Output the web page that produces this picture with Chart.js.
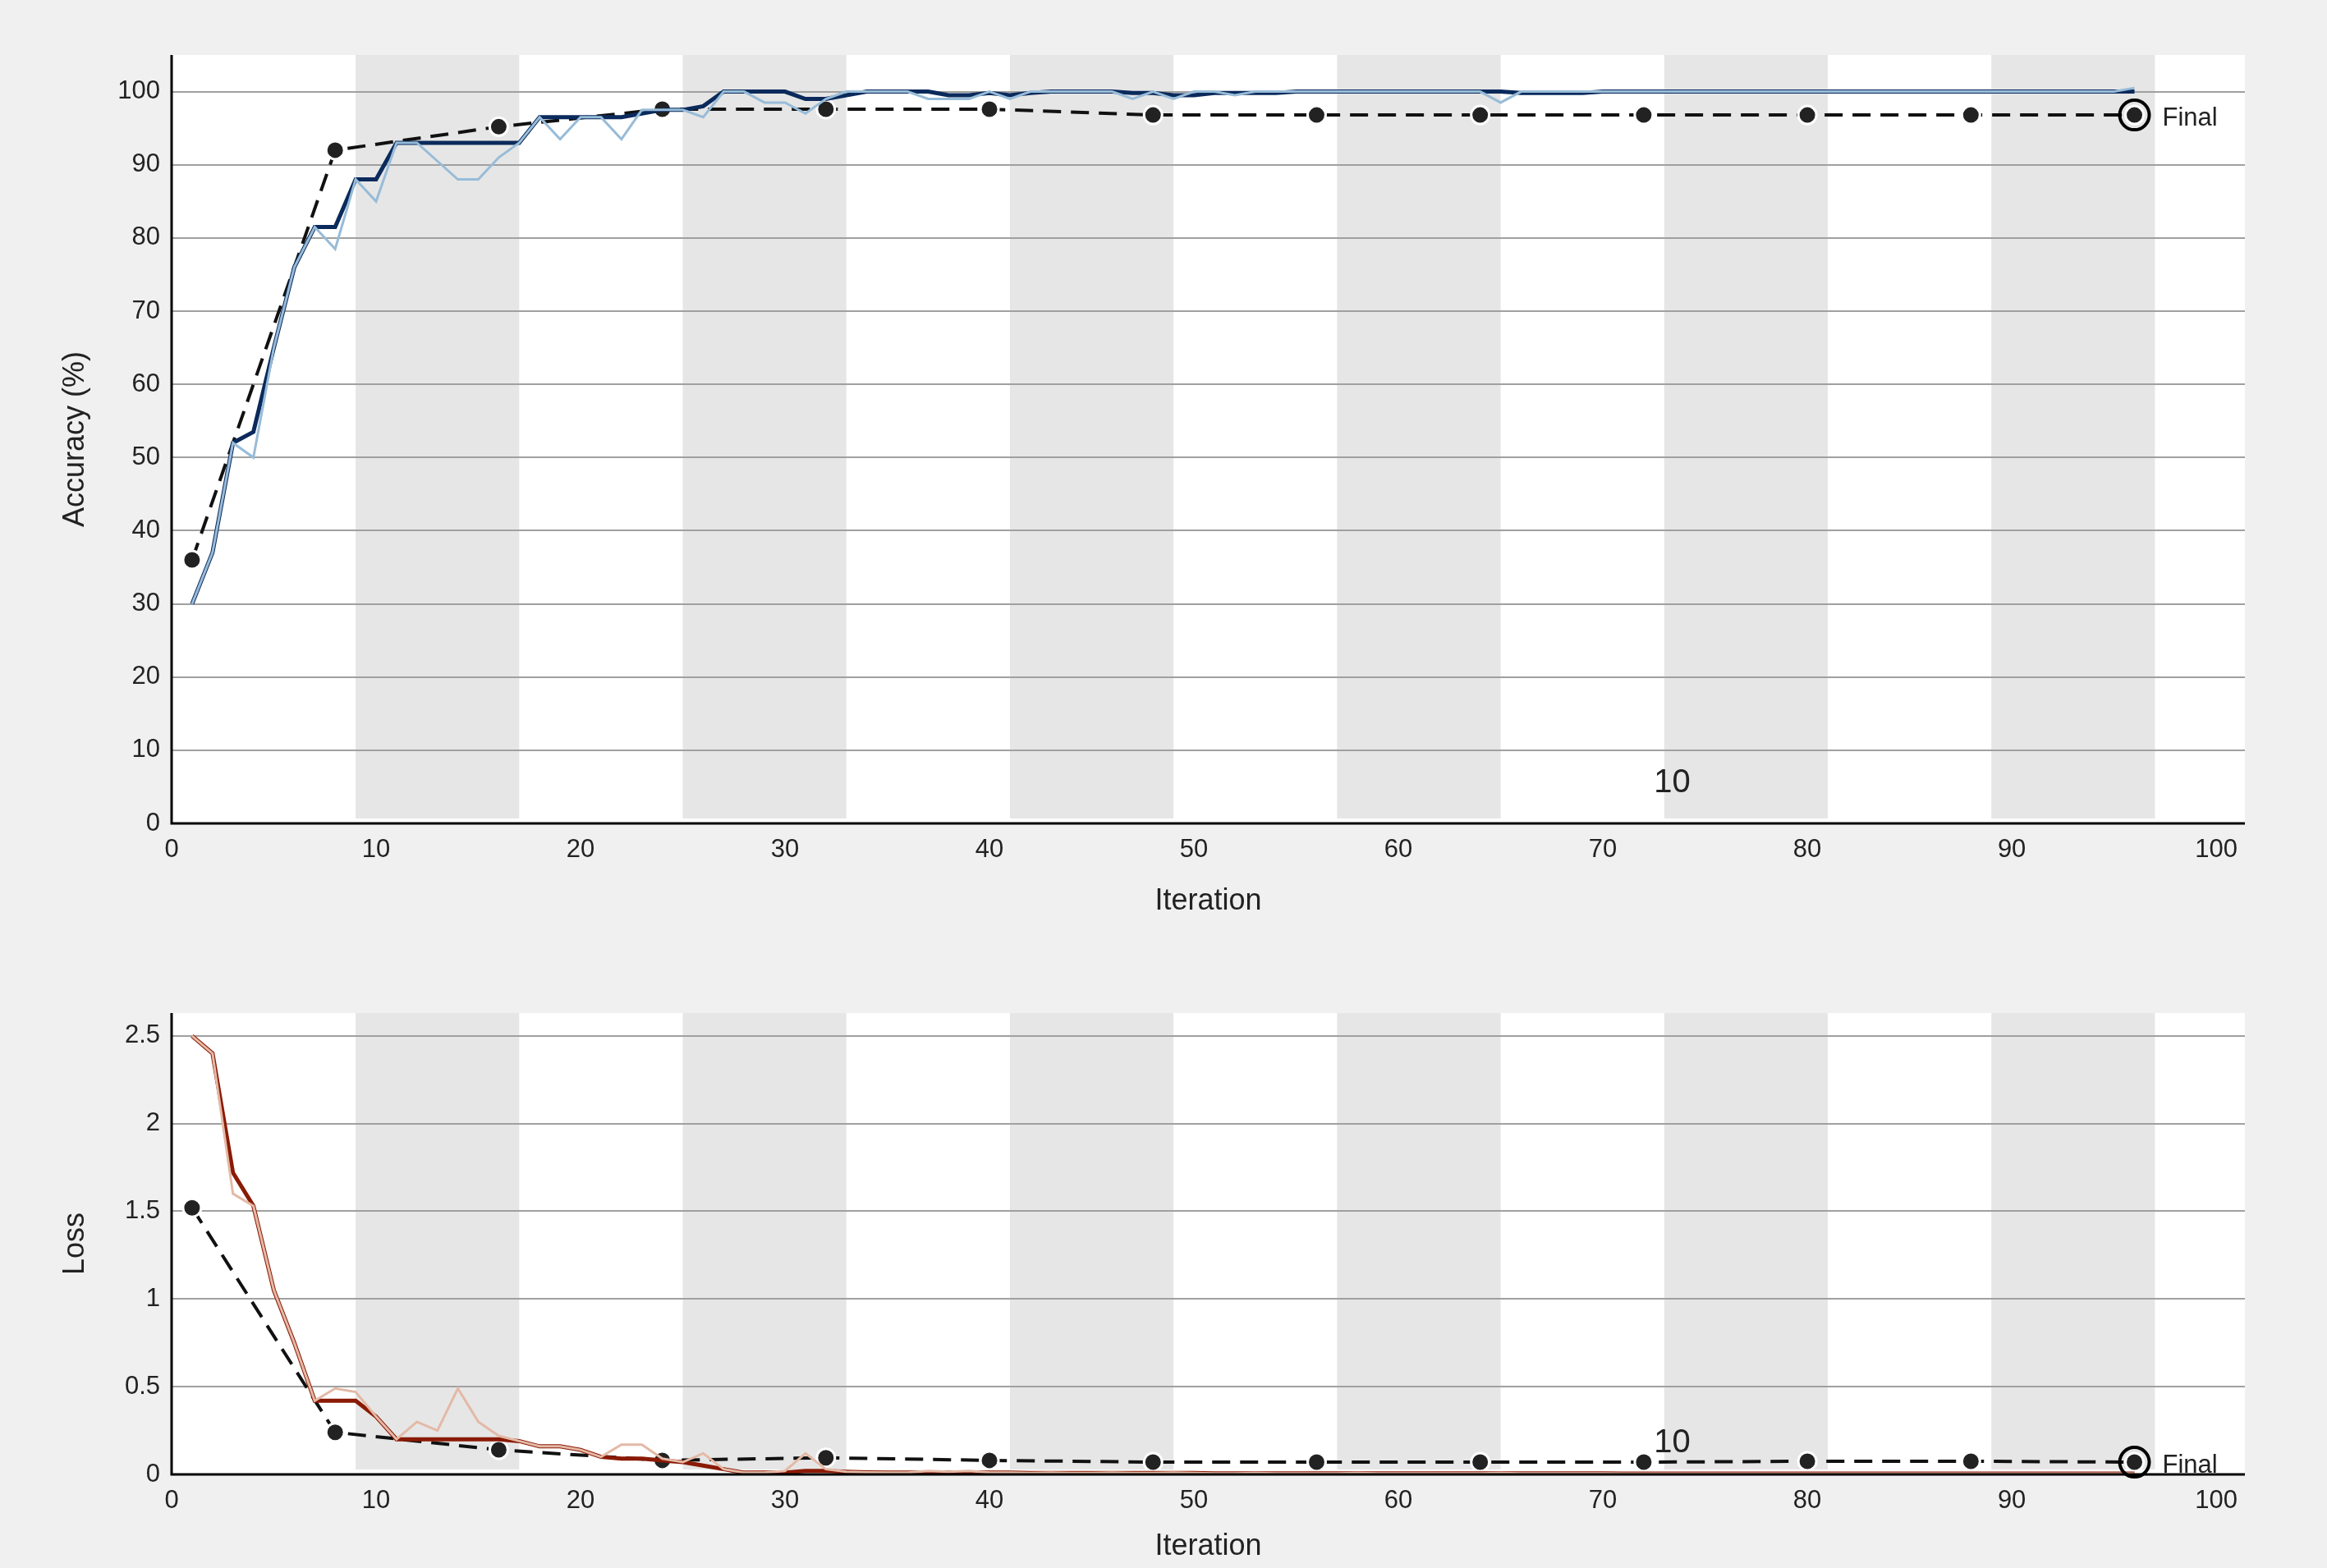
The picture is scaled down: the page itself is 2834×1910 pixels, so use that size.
<!DOCTYPE html>
<html>
<head>
<meta charset="utf-8">
<script src="https://cdn.jsdelivr.net/npm/chart.js@4"></script>
<style>
  body { margin: 0; background: #f0f0f0; }
  .box { position: absolute; left: 0; width: 2834px; }
  #top { top: 0; height: 1140px; }
  #bot { top: 1140px; height: 770px; }
</style>
</head>
<body>
<div class="box" id="top"><canvas id="accChart"></canvas></div>
<div class="box" id="bot"><canvas id="lossChart"></canvas></div>
<script>
var xTicks = [0, 10, 20, 30, 40, 50, 60, 70, 80, 90, 100];
var accTicks = [0, 10, 20, 30, 40, 50, 60, 70, 80, 90, 100];
var lossTicks = [0, 0.5, 1, 1.5, 2, 2.5];
var epochBands = [[9, 17], [25, 33], [41, 49], [57, 65], [73, 81], [89, 97]];

var accSmooth = [30,37,52,53.5,65,76,81.5,81.5,88,88,
  93,93,93,93,93,93,93,96.5,96.5,96.5,
  96.5,96.5,97,97.5,97.5,98,100,100,100,100,
  99,99,99.5,100,100,100,100,99.5,99.5,99.8,
  99.5,99.8,100,100,100,100,99.8,99.8,99.5,99.5,
  99.8,99.8,99.8,99.8,100,100,100,100,100,100,
  100,100,100,100,100,99.8,99.8,99.8,99.8,100,
  100,100,100,100,100,100,100,100,100,100,
  100,100,100,100,100,100,100,100,100,100,
  100,100,100,100,100,100];
var accRaw = [30,37,52,50,65,76,81.5,78.5,88,85,
  93,93,90.5,88,88,91,93,96.5,93.5,96.5,
  96.5,93.5,97.5,97.5,97.5,96.5,100,100,98.5,98.5,
  97,99,100,100,100,100,99,99,99,100,
  99,100,100,100,100,100,99,100,99,100,
  100,99.5,100,100,100,100,100,100,100,100,
  100,100,100,100,98.5,100,100,100,100,100,
  100,100,100,100,100,100,100,100,100,100,
  100,100,100,100,100,100,100,100,100,100,
  100,100,100,100,100,100.5];
var valIter = [1, 8, 16, 24, 32, 40, 48, 56, 64, 72, 80, 88, 96];
var accVal = [36, 92, 95.2, 97.6, 97.6, 97.6, 96.8, 96.8, 96.8, 96.8, 96.8, 96.8, 96.8];

var lossSmooth = [2.5,2.4,1.72,1.53,1.05,0.75,0.42,0.42,0.42,0.33,
  0.2,0.2,0.2,0.2,0.2,0.2,0.19,0.16,0.16,0.14,
  0.1,0.09,0.09,0.08,0.07,0.05,0.03,0.01,0.01,0.01,
  0.02,0.02,0.015,0.012,0.01,0.01,0.01,0.012,0.012,0.01,
  0.01,0.008,0.008,0.008,0.008,0.008,0.008,0.008,0.008,0.008,
  0.006,0.006,0.006,0.006,0.006,0.006,0.006,0.006,0.006,0.006,
  0.006,0.006,0.006,0.006,0.006,0.006,0.006,0.006,0.006,0.006,
  0.005,0.005,0.005,0.005,0.005,0.005,0.005,0.005,0.005,0.005,
  0.005,0.005,0.005,0.005,0.005,0.005,0.005,0.005,0.005,0.005,
  0.005,0.005,0.005,0.005,0.005,0.005];
var lossRaw = [2.5,2.4,1.6,1.53,1.05,0.75,0.42,0.49,0.47,0.33,
  0.2,0.3,0.25,0.49,0.3,0.22,0.19,0.16,0.16,0.14,
  0.1,0.17,0.17,0.09,0.07,0.12,0.03,0.01,0.01,0.02,
  0.12,0.03,0.015,0.012,0.01,0.01,0.02,0.015,0.02,0.01,
  0.01,0.008,0.01,0.008,0.008,0.01,0.008,0.008,0.01,0.008,
  0.006,0.006,0.008,0.006,0.006,0.006,0.006,0.008,0.006,0.006,
  0.006,0.006,0.006,0.006,0.008,0.006,0.006,0.006,0.006,0.006,
  0.005,0.005,0.005,0.005,0.005,0.005,0.005,0.005,0.005,0.005,
  0.005,0.005,0.005,0.005,0.005,0.005,0.005,0.005,0.005,0.005,
  0.005,0.005,0.005,0.005,0.005,0.005];
var lossVal = [1.52, 0.24, 0.14, 0.08, 0.095, 0.08, 0.07, 0.07, 0.07, 0.07, 0.075, 0.075, 0.07];

var FONT = '"Liberation Sans", Arial, sans-serif';

function series(vals) {
  return vals.map(function (v, i) { return { x: i + 1, y: v }; });
}
function valSeries(vals) {
  return vals.map(function (v, i) { return { x: valIter[i], y: v }; });
}

var bandsPlugin = {
  id: 'bands',
  beforeDraw: function (chart) {
    var a = chart.chartArea, ctx = chart.ctx, xs = chart.scales.x;
    ctx.save();
    ctx.fillStyle = '#ffffff';
    ctx.fillRect(a.left, a.top, a.right - a.left, a.bottom - a.top);
    ctx.fillStyle = '#e6e6e6';
    epochBands.forEach(function (b) {
      var l = xs.getPixelForValue(b[0]), r = Math.min(xs.getPixelForValue(b[1]), a.right);
      ctx.fillRect(l, a.top, r - l, a.bottom - a.top - 6);
    });
    ctx.restore();
  },
  afterDraw: function (chart) {
    var a = chart.chartArea, ctx = chart.ctx, xs = chart.scales.x, ys = chart.scales.y;
    var o = chart.options.plugins.bands;
    ctx.save();
    // axis lines
    ctx.strokeStyle = '#000'; ctx.lineWidth = 3;
    ctx.beginPath();
    ctx.moveTo(a.left, a.top); ctx.lineTo(a.left, a.bottom); ctx.lineTo(a.right, a.bottom);
    ctx.stroke();
    // final marker
    var fx = xs.getPixelForValue(valIter[valIter.length - 1]);
    var fy = ys.getPixelForValue(o.finalVal);
    ctx.lineWidth = 4;
    ctx.beginPath(); ctx.arc(fx, fy, 18, 0, Math.PI * 2); ctx.stroke();
    ctx.fillStyle = '#222';
    ctx.font = '31px ' + FONT;
    ctx.textBaseline = 'middle';
    ctx.fillText('Final', fx + 34, fy + 4);
    ctx.font = '40px ' + FONT;
    ctx.fillText('10', xs.getPixelForValue(72.5), ys.getPixelForValue(o.epochLabelY));
    ctx.restore();
  }
};

function makeChart(id, smooth, raw, val, dark, light, yTicks, yMax, yTitle, padTop, xHeight, padBottom, finalVal, epochLabelY) {
  return new Chart(document.getElementById(id).getContext('2d'), {
    type: 'line',
    data: {
      datasets: [
        { data: series(raw), borderColor: light, borderWidth: 3, pointRadius: 0, tension: 0 },
        { data: series(smooth), borderColor: dark, borderWidth: 5, pointRadius: 0, tension: 0 },
        { data: valSeries(val), borderColor: '#111', borderWidth: 4, borderDash: [22, 12],
          pointRadius: 11, pointBackgroundColor: '#222', pointBorderColor: '#fff', pointBorderWidth: 3 }
      ]
    },
    options: {
      responsive: true, maintainAspectRatio: false, animation: false,
      layout: { padding: { top: padTop, right: 100, left: 66, bottom: padBottom } },
      plugins: { legend: { display: false }, tooltip: { enabled: false },
        bands: { finalVal: finalVal, epochLabelY: epochLabelY } },
      scales: {
        x: {
          type: 'linear', min: 0, max: 101.4,
          afterBuildTicks: function (s) { s.ticks = xTicks.map(function (v) { return { value: v }; }); },
          afterFit: function (s) { s.height = xHeight; },
          grid: { display: false, drawTicks: false },
          border: { display: false },
          ticks: { color: '#222', font: { size: 31, family: FONT }, padding: 14, maxRotation: 0 },
          title: { display: true, text: 'Iteration', color: '#222', font: { size: 36, family: FONT }, padding: { top: 4 } }
        },
        y: {
          min: 0, max: yMax,
          afterBuildTicks: function (s) { s.ticks = yTicks.map(function (v) { return { value: v }; }); },
          afterFit: function (s) { s.width = 143; },
          grid: { color: '#a0a0a0', lineWidth: 2, drawTicks: false },
          border: { display: false },
          ticks: { color: '#222', font: { size: 31, family: FONT }, padding: 14,
            callback: function (v) { return String(v); } },
          title: { display: true, text: yTitle, color: '#222', font: { size: 36, family: FONT }, padding: { bottom: 4 } }
        }
      }
    },
    plugins: [bandsPlugin]
  });
}

makeChart('accChart', accSmooth, accRaw, accVal, '#0b2a5c', '#98bcd8', accTicks, 105, 'Accuracy (%)', 67, 121, 16, 96.8, 5.5);
makeChart('lossChart', lossSmooth, lossRaw, lossVal, '#8a1a05', '#e4b9a6', lossTicks, 2.63, 'Loss', 94, 114, 0, 0.07, 0.18);
</script>
</body>
</html>
